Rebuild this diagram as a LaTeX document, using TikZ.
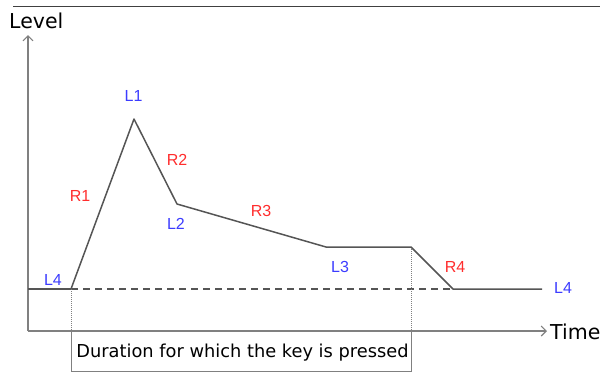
\documentclass[tikz,border=0pt]{standalone}
\usepackage{fontspec}
\setmainfont{DejaVu Sans}
\newfontfamily\labfont{Liberation Sans}
\usetikzlibrary{arrows.meta}
\definecolor{lblue}{RGB}{60,60,255}
\definecolor{lred}{RGB}{255,45,45}
\definecolor{envc}{RGB}{85,85,85}
\definecolor{axc}{RGB}{128,128,128}
\tikzset{
  axisline/.style={draw=axc, line width=1.1pt, -{Straight Barb[length=5pt,width=10pt]}},
  envline/.style={draw=envc, line width=1.5pt, line join=round},
  dashline/.style={draw=envc, line width=1.4pt, dash pattern=on 7pt off 5pt},
  dotline/.style={draw=axc, line width=0.7pt, dash pattern=on 1pt off 1pt},
  boxline/.style={draw=axc, line width=0.9pt},
  lvl/.style={font=\labfont\fontsize{16}{19}\selectfont, text=lblue, inner sep=0pt},
  rate/.style={font=\labfont\fontsize{16}{19}\selectfont, text=lred, inner sep=0pt},
  axlabel/.style={font=\fontsize{20.5}{24}\selectfont, inner sep=0pt},
}
\begin{document}
\begin{tikzpicture}[x=1pt,y=-1pt]
\useasboundingbox (0,0) rectangle (607,373);
% top rule
\coordinate (tl) at (13,6);
\coordinate (tr) at (600,6);
\draw[draw=black!75, line width=1pt] (tl) -- (tr);
% axes
\coordinate (O) at (28,331);
\coordinate (ytip) at (28,35);
\coordinate (xtip) at (547,331);
\draw[axisline] (O) -- (ytip);
\draw[axisline] (O) -- (xtip);
\node[axlabel, anchor=base west] (level) at (9,28) {Level};
\node[axlabel, anchor=base west] (time) at (550,339) {Time};
% envelope points
\coordinate (s) at (28,289);
\coordinate (p0) at (71,289);
\coordinate (p1) at (134,119);
\coordinate (p2) at (177,204);
\coordinate (p3) at (326,247);
\coordinate (p4) at (411,247);
\coordinate (p5) at (453,289);
\coordinate (p6) at (542,289);
\coordinate (a0) at (71,331);
\coordinate (a4) at (411,331);
\coordinate (b0) at (71,371);
\coordinate (b4) at (411,371);
% dashed baseline
\draw[dashline] (p0) -- (p5);
% dotted verticals
\draw[dotline] (p0) -- (a0);
\draw[dotline] (p4) -- (a4);
% duration box
\draw[boxline] (a0) -- (b0) -- (b4) -- (a4);
\node[font=\fontsize{17.8}{21}\selectfont, anchor=base, inner sep=0pt] (dur) at (242.5,357) {Duration for which the key is pressed};
% envelope
\draw[envline] (s) -- (p0);
\draw[envline] (p0) -- (p1) -- (p2) -- (p3) -- (p4) -- (p5) -- (p6);
% labels
\node[lvl] (L1) at (133.5,96) {L1};
\node[rate] (R1) at (80,196) {R1};
\node[rate] (R2) at (177,160) {R2};
\node[lvl] (L2) at (176,224) {L2};
\node[rate] (R3) at (261,211) {R3};
\node[lvl] (L3) at (340,267) {L3};
\node[rate] (R4) at (455,267) {R4};
\node[lvl] (L4a) at (53,280) {L4};
\node[lvl] (L4b) at (563,288) {L4};
\end{tikzpicture}
\end{document}
